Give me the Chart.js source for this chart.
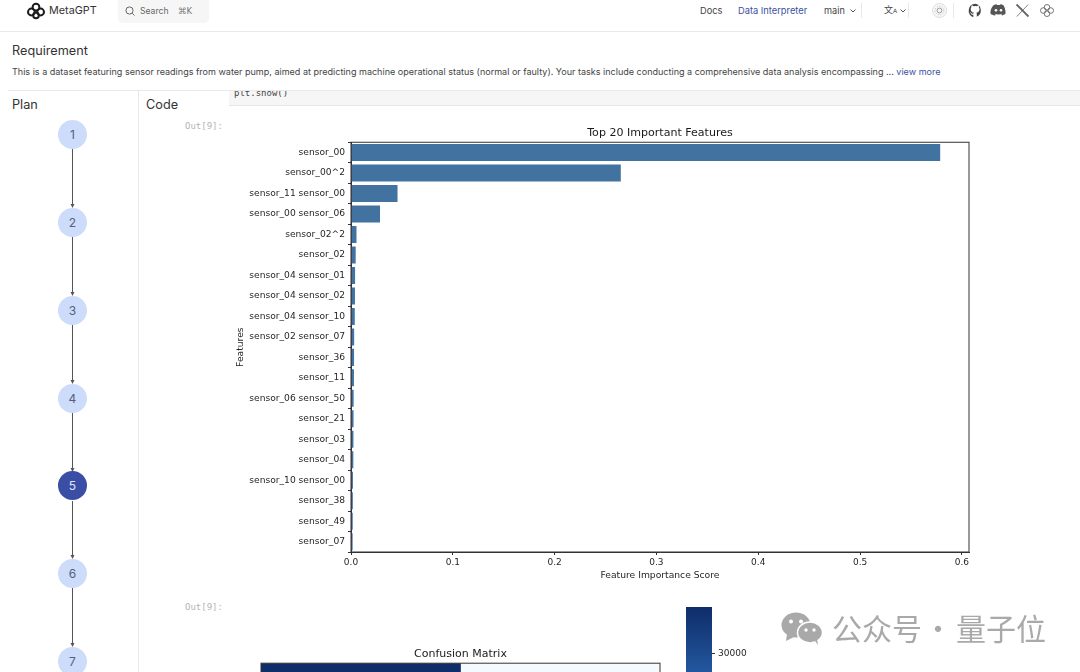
<!DOCTYPE html>
<html>
<head>
<meta charset="utf-8">
<title>MetaGPT Data Interpreter</title>
<script src="https://cdn.jsdelivr.net/npm/chart.js@4/dist/chart.umd.min.js"></script>
<style>
html, body { margin: 0; padding: 0; width: 1080px; height: 672px; overflow: hidden; background: #fff; }
body { position: relative; font-family: Inter, "Noto Sans", sans-serif; color: #333; }
.t { position: absolute; white-space: nowrap; line-height: 1; }
.line { position: absolute; background: #e9e9ec; }
.mono { font-family: "DejaVu Sans Mono", monospace; }
.mark { font-size: 30px; color: #a9a9a9; font-family: "Noto Sans CJK SC"; }
canvas { position: absolute; }
svg { position: absolute; overflow: visible; }
.step { position: absolute; left: 58px; width: 29px; height: 29px; border-radius: 50%; background: #cddcfb; color: #55607a; font-size: 12px; line-height: 29px; text-align: center; }
.step.on { background: #3a4ea5; color: #dfe6f8; }
</style>
</head>
<body>
<!-- header -->
<svg style="left:27px;top:3px" width="18" height="16" viewBox="0 0 18 16" fill="none" stroke="#1c1c1c" stroke-width="2">
  <circle cx="9" cy="4.2" r="3.4"/><circle cx="4.4" cy="9" r="3.4"/><circle cx="13.6" cy="9" r="3.4"/><circle cx="9" cy="12.4" r="2.8"/>
</svg>
<div class="t" style="left:49px;top:6px;font-size:10.8px;color:#333">MetaGPT</div>
<div style="position:absolute;left:118px;top:-4px;width:91px;height:27px;border-radius:5px;background:#f6f6f7"></div>
<svg style="left:125px;top:6px" width="10" height="10" fill="none" stroke="#666" stroke-width="1"><circle cx="4.5" cy="4.5" r="3.6"/><path d="M7.2 7.2L9.5 9.5"/></svg>
<div class="t" style="left:140px;top:7px;font-size:8.6px;color:#666">Search</div>
<div class="t" style="left:178px;top:7px;font-size:8.5px;color:#777;font-family:'DejaVu Sans'">⌘K</div>
<div class="t" style="left:700px;top:6px;font-size:9.2px;color:#444">Docs</div>
<div class="t" style="left:738px;top:6px;font-size:9.3px;color:#3d50a0">Data Interpreter</div>
<div class="t" style="left:824px;top:6px;font-size:9.2px;color:#444">main</div>
<svg style="left:849px;top:8px" width="8" height="6" fill="none" stroke="#555"><path d="M1.5 1.5L4 4L6.5 1.5"/></svg>
<div class="line" style="left:861px;top:3px;width:1px;height:15px"></div>
<div class="t" style="left:884px;top:5px;font-size:9px;color:#444;font-family:'Noto Sans CJK SC'">文<span style="font-size:6px;font-family:'DejaVu Sans'">A</span></div>
<svg style="left:899px;top:8px" width="8" height="6" fill="none" stroke="#555"><path d="M1.5 1.5L4 4L6.5 1.5"/></svg>
<div class="line" style="left:908px;top:3px;width:1px;height:15px"></div>
<svg style="left:932px;top:3px" width="15" height="15" fill="none"><circle cx="7.5" cy="7.5" r="7" fill="#f8f8f8" stroke="#ddd"/><circle cx="7.5" cy="7.5" r="2.4" stroke="#999"/><circle cx="7.5" cy="7.5" r="4.4" stroke="#bbb" stroke-dasharray="1 1.5"/></svg>
<div class="line" style="left:953px;top:3px;width:1px;height:15px"></div>
<svg style="left:968px;top:3px" width="15" height="15" viewBox="0 0 15 15"><path d="M7.5 .8a6.9 6.9 0 0 0-2.2 13.4v-2.4c-1.9.4-2.3-1-2.3-1-.4-.9-.8-1.1-.8-1.1-.7-.4 0-.5 0-.5.7.1 1.1.8 1.1.8.6 1.1 1.7.8 2.1.6.1-.5.3-.8.5-1-1.6-.2-3.2-.8-3.2-3.4 0-.8.3-1.4.7-1.9-.1-.2-.3-.9.1-1.8 0 0 .6-.2 1.9.7a6.5 6.5 0 0 1 3.4 0c1.3-.9 1.9-.7 1.9-.7.4.9.2 1.6.1 1.8.5.5.7 1.1.7 1.9 0 2.6-1.6 3.2-3.2 3.4.3.2.5.7.5 1.3v2.9A6.9 6.9 0 0 0 7.5 .8z" fill="#444"/></svg>
<svg style="left:991px;top:4px" width="15" height="12" viewBox="0 0 15 12"><path d="M2.5 1.2C4 .5 5 .3 5.6 .2l.4.8h3l.4-.8c.6.1 1.6.3 3.1 1 1.5 2.4 2.2 5.3 2 8.6-1.3 1-2.5 1.4-3.5 1.6l-.8-1.2c.6-.2 1-.4 1.4-.7-2.8 1.3-5.4 1.3-8.2 0 .4.3.8.5 1.4.7l-.8 1.2C2 11.2.8 10.800 -.5 9.800c-.2-3.300.5-6.200 3-8.600z" fill="#555"/><circle cx="5" cy="6.300" r="1.300" fill="#fff"/><circle cx="10" cy="6.300" r="1.300" fill="#fff"/></svg>
<svg style="left:1016px;top:4px" width="13" height="13" fill="none" stroke="#666"><path d="M.5 .5L12.500 12.500" stroke-width="1.800"/><path d="M12.200 .500L.800 12.500" stroke-width=".8"/></svg>
<svg style="left:1040px;top:4px" width="14" height="13" fill="none" stroke="#666" stroke-width=".9"><circle cx="7" cy="3.300" r="2.800"/><circle cx="3.300" cy="6.500" r="2.800"/><circle cx="10.700" cy="6.500" r="2.800"/><circle cx="7" cy="9.700" r="2.800"/></svg>
<div class="line" style="left:0;top:31px;width:1080px;height:1px"></div>

<!-- requirement -->
<div class="t" style="left:12px;top:45px;font-size:12.7px;color:#333">Requirement</div>
<div class="t" style="left:12px;top:67px;font-size:9.04px;color:#444">This is a dataset featuring sensor readings from water pump, aimed at predicting machine operational status (normal or faulty). Your tasks include conducting a comprehensive data analysis encompassing ... <span style="color:#3d50a0">view more</span></div>
<div class="line" style="left:8px;top:90px;width:1072px;height:1px"></div>

<!-- plan column -->
<div class="t" style="left:12px;top:99px;font-size:12.7px;color:#333">Plan</div>
<div class="t" style="left:146px;top:99px;font-size:12.7px;color:#333">Code</div>
<div class="line" style="left:138px;top:91px;width:1px;height:581px"></div>
<svg style="left:0;top:0" width="140" height="672" fill="none" stroke="#555" stroke-width="1">
  <path d="M72.500 149V207M72.500 237V295M72.500 325V383M72.500 413V471M72.500 501V558M72.500 588V646"/>
  <path fill="#555" stroke="none" d="M70.500 204h4l-2 4zM70.500 292h4l-2 4zM70.500 380h4l-2 4zM70.500 468h4l-2 4zM70.500 555h4l-2 4zM70.500 643h4l-2 4z"/>
</svg>
<div class="step" style="top:120px">1</div>
<div class="step" style="top:208px">2</div>
<div class="step" style="top:296px">3</div>
<div class="step" style="top:384px">4</div>
<div class="step on" style="top:471px">5</div>
<div class="step" style="top:559px">6</div>
<div class="step" style="top:647px">7</div>

<!-- code output -->
<div style="position:absolute;left:229px;top:91px;width:851px;height:14px;background:#f6f6f6;border-bottom:1px solid #e6e6e6;overflow:hidden">
  <div class="t mono" style="left:5px;top:-2px;font-size:9px;color:#444">plt.show()</div>
</div>
<div class="t mono" style="left:185px;top:122px;font-size:9px;color:#b4b4b4">Out[9]:</div>
<div class="t mono" style="left:185px;top:603px;font-size:9px;color:#b4b4b4">Out[9]:</div>

<canvas id="importanceChart" style="left:230px;top:120px;width:750px;height:461px"></canvas>
<canvas id="matrixChart" style="left:230px;top:644px;width:460px;height:48px"></canvas>
<canvas id="colorbarChart" style="left:680px;top:600px;width:90px;height:72px"></canvas>

<!-- watermark -->
<svg style="left:781px;top:612px" width="42" height="33" viewBox="0 0 42 33" fill="#a9a9a9">
  <ellipse cx="15" cy="13" rx="14.500" ry="12.500"/><path d="M6 22l-1 7 8-4z"/>
  <ellipse cx="29" cy="20.500" rx="12.500" ry="10.500" stroke="#fff" stroke-width="1.500"/><path d="M34 29l3 4-1-6z"/>
  <circle cx="10" cy="9.500" r="2" fill="#fff"/><circle cx="20" cy="9.500" r="2" fill="#fff"/>
  <circle cx="25" cy="18" r="1.700" fill="#fff"/><circle cx="33" cy="18" r="1.700" fill="#fff"/>
</svg>
<div class="t mark" style="left:832px;top:612px">公众号</div>
<div class="t mark" style="left:923px;top:612px">·</div>
<div class="t mark" style="left:956px;top:612px">量子位</div>

<script>
const featureNames = [
  "sensor_00", "sensor_00^2", "sensor_11 sensor_00", "sensor_00 sensor_06", "sensor_02^2",
  "sensor_02", "sensor_04 sensor_01", "sensor_04 sensor_02", "sensor_04 sensor_10", "sensor_02 sensor_07",
  "sensor_36", "sensor_11", "sensor_06 sensor_50", "sensor_21", "sensor_03",
  "sensor_04", "sensor_10 sensor_00", "sensor_38", "sensor_49", "sensor_07"
];
const importanceScores = [
  0.5787, 0.2650, 0.0457, 0.0285, 0.0054,
  0.0046, 0.0040, 0.0039, 0.0037, 0.0031,
  0.0030, 0.0029, 0.0026, 0.0025, 0.0024,
  0.0023, 0.0019, 0.0018, 0.0017, 0.0016
];
const xTicks = [0, 0.1, 0.2, 0.3, 0.4, 0.5, 0.6];
const matrixCellRanges = [[0, 1], [1, 2]];
const matrixCellColors = ["#0f2d69", "#f5fafe"];
const colorbarRange = [27700, 36000];
const colorbarTicks = [30000];

const mplFont = "'DejaVu Sans', sans-serif";
const axisColor = "#333";
const barColor = "#4272a0";

Chart.defaults.font.family = mplFont;
Chart.defaults.color = "#262626";

// matplotlib style box around the axes
const axesFrame = {
  id: "axesFrame",
  afterDatasetsDraw(chart) {
    const a = chart.chartArea, c = chart.ctx;
    c.save();
    c.strokeStyle = axisColor;
    c.lineWidth = 1;
    c.strokeRect(a.left, a.top, a.right - a.left, a.bottom - a.top);
    c.restore();
  }
};

new Chart("importanceChart", {
  type: "bar",
  data: {
    labels: featureNames,
    datasets: [{ data: importanceScores, backgroundColor: barColor, barPercentage: 0.83, categoryPercentage: 1 }]
  },
  plugins: [axesFrame],
  options: {
    indexAxis: "y",
    responsive: false,
    animation: false,
    layout: { padding: { top: 0, right: 11, left: 0, bottom: 0 } },
    plugins: {
      legend: { display: false },
      tooltip: { enabled: false },
      title: {
        display: true,
        text: "Top 20 Important Features",
        fullSize: false,
        color: "#1a1a1a",
        font: { size: 11.05, weight: "normal" },
        padding: { top: 7, bottom: 2 }
      }
    },
    scales: {
      x: {
        type: "linear",
        min: 0,
        max: 0.607,
        afterBuildTicks(axis) { axis.ticks = xTicks.map(v => ({ value: v })); },
        afterFit(axis) { axis.height = 29; },
        ticks: { font: { size: 9 }, maxRotation: 0, padding: 2, callback: v => v.toFixed(1) },
        grid: { drawOnChartArea: false, tickLength: 3, tickColor: axisColor },
        border: { color: axisColor },
        title: { display: true, text: "Feature Importance Score", font: { size: 9.200 }, padding: { top: 3, bottom: 0 } }
      },
      y: {
        afterFit(axis) { axis.width = 121; },
        ticks: { font: { size: 9.150 }, autoSkip: false, padding: 3 },
        grid: { drawOnChartArea: false, tickLength: 3, tickColor: axisColor },
        border: { color: axisColor },
        title: { display: true, text: "Features", font: { size: 9.200 }, padding: { top: 5, bottom: 0 } }
      }
    }
  }
});

new Chart("matrixChart", {
  type: "bar",
  data: {
    labels: ["0"],
    datasets: matrixCellRanges.map((range, i) => ({
      data: [range],
      backgroundColor: matrixCellColors[i],
      barPercentage: 1,
      categoryPercentage: 1,
      grouped: false
    }))
  },
  plugins: [axesFrame],
  options: {
    indexAxis: "y",
    responsive: false,
    animation: false,
    layout: { padding: { left: 31, right: 30 } },
    plugins: {
      legend: { display: false },
      tooltip: { enabled: false },
      title: {
        display: true,
        text: "Confusion Matrix",
        color: "#1a1a1a",
        fullSize: false,
        font: { size: 11, weight: "normal" },
        padding: { top: 4, bottom: 2 }
      }
    },
    scales: {
      x: { display: false, min: 0, max: 2 },
      y: { display: false }
    }
  }
});

new Chart("colorbarChart", {
  type: "bar",
  data: {
    labels: ["counts"],
    datasets: [{
      data: [colorbarRange],
      barPercentage: 1,
      categoryPercentage: 1,
      backgroundColor(ctx) {
        const area = ctx.chart.chartArea;
        if (!area) return "#0f2d69";
        const g = ctx.chart.ctx.createLinearGradient(0, area.top, 0, area.bottom);
        g.addColorStop(0, "#0f2d69");
        g.addColorStop(1, "#23579f");
        return g;
      }
    }]
  },
  options: {
    responsive: false,
    animation: false,
    layout: { padding: { left: 6, top: 7, right: 0, bottom: 0 } },
    plugins: { legend: { display: false }, tooltip: { enabled: false } },
    scales: {
      x: { display: false },
      y: {
        position: "right",
        min: colorbarRange[0],
        max: colorbarRange[1],
        afterBuildTicks(axis) { axis.ticks = colorbarTicks.map(v => ({ value: v })); },
        afterFit(axis) { axis.width = 58; axis.paddingTop = 0; axis.paddingBottom = 0; },
        ticks: { font: { size: 9 }, padding: 3, callback: v => String(v) },
        grid: { drawOnChartArea: false, tickLength: 3, tickColor: axisColor },
        border: { display: false }
      }
    }
  }
});
</script>
</body>
</html>
